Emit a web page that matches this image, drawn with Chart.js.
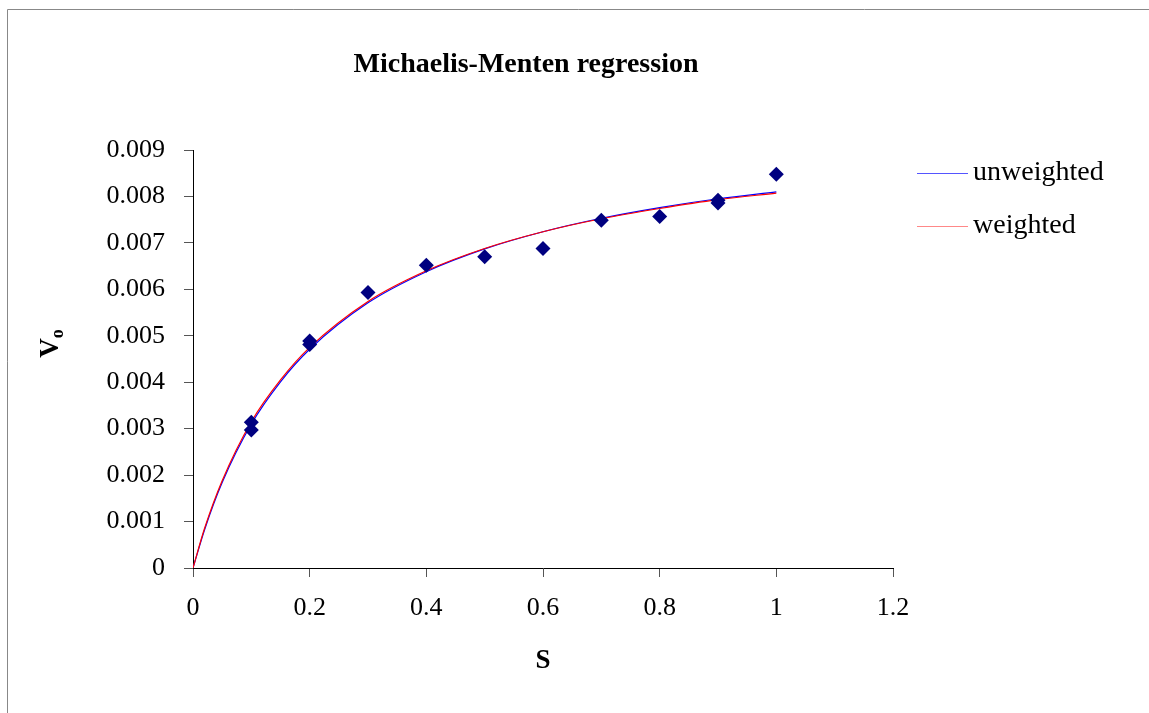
<!DOCTYPE html>
<html lang="en">
<head>
    <meta charset="UTF-8">
    <title>Michaelis-Menten regression</title>
    <script src="https://cdn.jsdelivr.net/npm/chart.js"></script>
    <style>
        body { margin: 0; background: #fff; overflow: hidden; }
        #chart-container { width: 1149px; height: 713px; position: relative; }
    </style>
</head>
<body>
    <div id="chart-container">
        <canvas id="mmChart"></canvas>
    </div>

    <script>
        const obsS = [0.1, 0.1, 0.2, 0.2, 0.3, 0.4, 0.5, 0.6, 0.7, 0.8, 0.9, 0.9, 1.0];
        const obsV = [0.00314, 0.00297, 0.00489, 0.00481, 0.00593, 0.00652, 0.00670, 0.00688, 0.00749, 0.00757, 0.00792, 0.00786, 0.00848];

        // fitted curves
        const fitS = [0, 0.02, 0.05, 0.1, 0.15, 0.2, 0.3, 0.4, 0.5, 0.6, 0.7, 0.8, 0.9, 1.0];
        const unweightedV = [0, 0.00083, 0.00184, 0.00310, 0.00401, 0.00471, 0.00571, 0.00638, 0.00687, 0.00724, 0.00753, 0.00776, 0.00795, 0.00810];
        const weightedV = [0, 0.00086, 0.00188, 0.00315, 0.00405, 0.00475, 0.00574, 0.00640, 0.00688, 0.00724, 0.00752, 0.00774, 0.00793, 0.00807];

        // tick labels
        const xTickLabels = ['0', '0.2', '0.4', '0.6', '0.8', '1', '1.2'];
        const yTickLabels = ['0', '0.001', '0.002', '0.003', '0.004', '0.005', '0.006', '0.007', '0.008', '0.009'];

        const FONT = "'Liberation Serif', 'Times New Roman', serif";

        function toPoints(xs, ys) {
            return xs.map((x, i) => ({ x: x, y: ys[i] }));
        }

        // frame, title, axis titles and legend
        const decorations = {
            id: 'decorations',
            beforeDraw(chart) {
                const ctx = chart.ctx;
                ctx.save();
                ctx.strokeStyle = '#888';
                ctx.lineWidth = 1;
                ctx.beginPath();
                ctx.moveTo(7.5, 2000);
                ctx.lineTo(7.5, 9.5);
                ctx.lineTo(2000, 9.5);
                ctx.stroke();
                ctx.restore();
            },
            afterDraw(chart) {
                const ctx = chart.ctx;
                const area = chart.chartArea;
                ctx.save();
                ctx.fillStyle = '#000';
                ctx.textBaseline = 'middle';

                // title
                ctx.font = 'bold 28px ' + FONT;
                ctx.textAlign = 'center';
                ctx.fillText('Michaelis-Menten regression', 526, 65);

                // x title
                ctx.font = 'bold 27px ' + FONT;
                ctx.fillText('S', (area.left + area.right) / 2, 661);

                // y title: V with subscript o, rotated
                ctx.translate(51, 345);
                ctx.rotate(-Math.PI / 2);
                ctx.textAlign = 'left';
                ctx.font = 'bold 27px ' + FONT;
                const vw = ctx.measureText('V').width;
                ctx.fillText('V', -vw / 2 - 3, 0);
                ctx.font = 'bold 18px ' + FONT;
                ctx.fillText('o', vw / 2 - 3, 7);
                ctx.setTransform(1, 0, 0, 1, 0, 0);

                // legend
                const items = chart.data.datasets.filter(d => d.showInLegend);
                ctx.font = '28px ' + FONT;
                ctx.textAlign = 'left';
                items.forEach((d, i) => {
                    const y = 173.5 + i * 53;
                    ctx.strokeStyle = d.legendColor;
                    ctx.lineWidth = 1;
                    ctx.beginPath();
                    ctx.moveTo(917, y);
                    ctx.lineTo(968, y);
                    ctx.stroke();
                    ctx.fillText(d.label, 973, y - 1);
                });
                ctx.restore();
            }
        };

        const ctx = document.getElementById('mmChart').getContext('2d');

        new Chart(ctx, {
            type: 'scatter',
            data: {
                datasets: [
                    {
                        label: 'data',
                        data: toPoints(obsS, obsV),
                        pointStyle: 'rectRot',
                        pointRadius: 7.5,
                        pointBackgroundColor: '#000080',
                        pointBorderColor: '#000080',
                        pointBorderWidth: 0,
                        showLine: false,
                        order: 0
                    },
                    {
                        label: 'unweighted',
                        data: toPoints(fitS, unweightedV),
                        showLine: true,
                        borderColor: '#0000ff',
                        legendColor: '#5555ff',
                        showInLegend: true,
                        borderWidth: 1.2,
                        pointRadius: 0,
                        cubicInterpolationMode: 'monotone',
                        order: 2
                    },
                    {
                        label: 'weighted',
                        data: toPoints(fitS, weightedV),
                        showLine: true,
                        borderColor: '#ff0000',
                        legendColor: '#ff8888',
                        showInLegend: true,
                        borderWidth: 1.2,
                        pointRadius: 0,
                        cubicInterpolationMode: 'monotone',
                        order: 1
                    }
                ]
            },
            options: {
                responsive: true,
                maintainAspectRatio: false,
                animation: false,
                events: [],
                layout: {
                    padding: { left: 0, top: 150, right: 256, bottom: 85 }
                },
                plugins: {
                    legend: { display: false },
                    title: { display: false },
                    tooltip: { enabled: false }
                },
                scales: {
                    x: {
                        type: 'linear',
                        min: 0,
                        max: 1.2,
                        afterFit(scale) { scale.height = 60; },
                        afterBuildTicks(scale) {
                            scale.ticks = xTickLabels.map(t => ({ value: parseFloat(t) }));
                        },
                        ticks: {
                            callback: (v, i) => xTickLabels[i],
                            font: { family: FONT, size: 26 },
                            color: '#000',
                            padding: 16,
                            maxRotation: 0,
                            autoSkip: false
                        },
                        grid: { drawOnChartArea: false, drawTicks: true, tickLength: 9, color: '#555' },
                        border: { display: true, color: '#000', width: 1 }
                    },
                    y: {
                        type: 'linear',
                        min: 0,
                        max: 0.009,
                        afterFit(scale) { scale.width = 193; },
                        afterBuildTicks(scale) {
                            scale.ticks = yTickLabels.map(t => ({ value: parseFloat(t) }));
                        },
                        ticks: {
                            callback: (v, i) => yTickLabels[i],
                            font: { family: FONT, size: 26 },
                            color: '#000',
                            padding: 19,
                            autoSkip: false
                        },
                        grid: { drawOnChartArea: false, drawTicks: true, tickLength: 9, color: '#555' },
                        border: { display: true, color: '#000', width: 1 }
                    }
                }
            },
            plugins: [decorations]
        });
    </script>
</body>
</html>
